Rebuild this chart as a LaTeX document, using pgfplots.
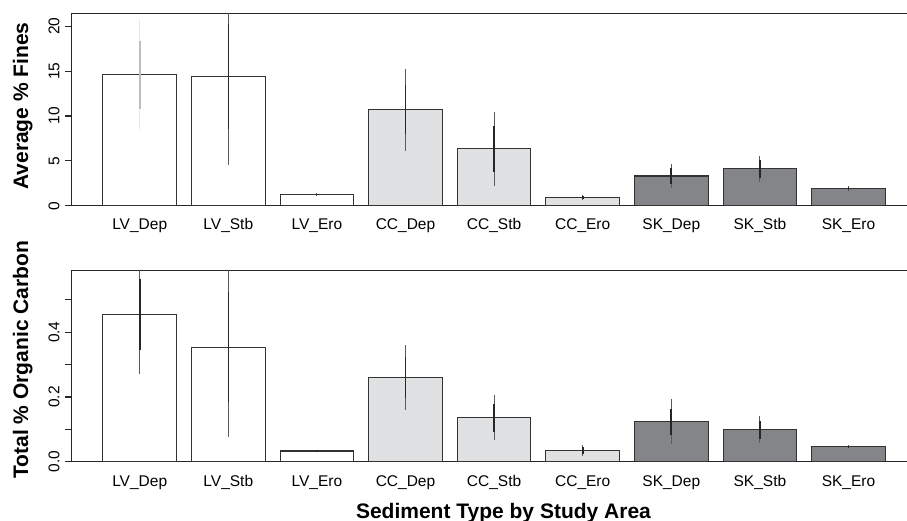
\documentclass[border=0pt]{standalone}
\usepackage{fontspec}
\setmainfont{Liberation Sans}
\usepackage{pgfplots}
\usepackage{pgfplotstable}
\pgfplotsset{compat=1.18}
\definecolor{ccgrey}{HTML}{E0E1E2}
\definecolor{skgrey}{HTML}{848588}
\definecolor{barline}{HTML}{333333}
\definecolor{errout}{HTML}{5A5A5A}
\definecolor{errin}{HTML}{262626}
\definecolor{lightout}{HTML}{E6E6E6}
\definecolor{lightin}{HTML}{BDBDBD}
\newcommand\ticksize{\fontsize{15.5}{18}\selectfont}
\newcommand\labsize{\fontsize{21}{25}\selectfont\bfseries}

% Average % Fines: x, mean, outer half-range, inner half-range
\pgfplotstableread{
x y eo ei
0 14.60 6.10 3.80
1 14.38 9.84 5.86
2 1.27 0.14 0.08
}\fineslv
\pgfplotstableread{
x y eo ei
3 10.70 4.55 2.73
4 6.35 4.14 2.54
5 0.94 0.26 0.15
}\finescc
\pgfplotstableread{
x y eo ei
6 3.31 1.33 0.90
7 4.12 1.45 1.00
8 1.90 0.30 0.20
}\finessk
% Total % Organic Carbon
\pgfplotstableread{
x y eo ei
0 0.4535 0.182 0.110
1 0.3536 0.278 0.170
2 0.0330 0.004 0.002
}\toclv
\pgfplotstableread{
x y eo ei
3 0.2610 0.100 0.063
4 0.1360 0.070 0.043
5 0.0350 0.0175 0.010
}\toccc
\pgfplotstableread{
x y eo ei
6 0.1240 0.069 0.040
7 0.0990 0.042 0.028
8 0.0464 0.004 0.002
}\tocsk

\pgfplotsset{
  panel/.style={
    scale only axis, width=844.9pt,
    xmin=-0.7675, xmax=8.7688, ymin=0,
    axis line style={line width=1.3pt, color=black!85},
    xtick={0,1,2,3,4,5,6,7,8},
    xticklabels={LV\_Dep,LV\_Stb,LV\_Ero,CC\_Dep,CC\_Stb,CC\_Ero,SK\_Dep,SK\_Stb,SK\_Ero},
    xtick style={draw=none},
    ytick pos=left, xtick pos=bottom,
    tick align=outside, major tick length=7pt,
    ytick style={line width=1.1pt, color=black!85},
    tick label style={font=\ticksize},
    xticklabel style={anchor=base, inner sep=0pt},
    yticklabel style={xshift=-5pt, rotate=90, anchor=south, inner sep=0pt},
    /pgf/number format/assume math mode=true,
    ylabel style={font=\labsize, anchor=base},
    clip=true,
  },
  bars/.style={ybar, bar width=0.83, bar shift=0pt, draw=barline, line width=1.1pt, fill=#1},
  eout/.style={forget plot, draw=none, mark=none, error bars/.cd, y dir=both, y explicit, error mark=none,
    error bar style={draw=#1, line width=1.1pt, solid}, /pgfplots/.cd},
  ein/.style={forget plot, draw=none, mark=none, error bars/.cd, y dir=both, y explicit, error mark=none,
    error bar style={draw=#1, line width=1.6pt, solid}, /pgfplots/.cd},
}

\begin{document}
\begin{tikzpicture}
\begin{axis}[panel, at={(71.7pt,315.3pt)}, anchor=south west,
  height=192pt, ymax=21.4,
  ytick={0,5,10,15,20}, yticklabels={0,5,10,15,20},
  xticklabel style={yshift=-16.8pt},
  ylabel={Average \% Fines},
  ylabel style={at={(rel axis cs:-0.0517,0.519)}},
]
\addplot[bars=white] table[x=x,y=y] {\fineslv};
\addplot[bars=ccgrey] table[x=x,y=y] {\finescc};
\addplot[bars=skgrey] table[x=x,y=y] {\finessk};
\addplot[restrict x to domain=-0.5:0.5, eout=lightout] table[x=x,y=y,y error=eo] {\fineslv};
\addplot[restrict x to domain=-0.5:0.5, ein=lightin] table[x=x,y=y,y error=ei] {\fineslv};
\addplot[restrict x to domain=0.5:2.5, eout=errout] table[x=x,y=y,y error=eo] {\fineslv};
\addplot[restrict x to domain=0.5:2.5, ein=errin] table[x=x,y=y,y error=ei] {\fineslv};
\addplot[eout=errout] table[x=x,y=y,y error=eo] {\finescc};
\addplot[ein=errin] table[x=x,y=y,y error=ei] {\finescc};
\addplot[eout=errout] table[x=x,y=y,y error=eo] {\finessk};
\addplot[ein=errin] table[x=x,y=y,y error=ei] {\finessk};
\end{axis}

\begin{axis}[panel, at={(71.7pt,59.3pt)}, anchor=south west,
  height=191pt, ymax=0.590,
  ytick={0,0.1,0.2,0.3,0.4,0.5}, yticklabels={0.0,,0.2,,0.4,},
  xticklabel style={yshift=-17.8pt},
  ylabel={Total \% Organic Carbon},
  ylabel style={at={(rel axis cs:-0.0517,0.534)}},
  xlabel={Sediment Type by Study Area},
  xlabel style={font=\labsize, anchor=base, at={(rel axis cs:0.511,-0.2963)}},
]
\addplot[bars=white] table[x=x,y=y] {\toclv};
\addplot[bars=ccgrey] table[x=x,y=y] {\toccc};
\addplot[bars=skgrey] table[x=x,y=y] {\tocsk};
\addplot[eout=errout] table[x=x,y=y,y error=eo] {\toclv};
\addplot[ein=errin] table[x=x,y=y,y error=ei] {\toclv};
\addplot[eout=errout] table[x=x,y=y,y error=eo] {\toccc};
\addplot[ein=errin] table[x=x,y=y,y error=ei] {\toccc};
\addplot[eout=errout] table[x=x,y=y,y error=eo] {\tocsk};
\addplot[ein=errin] table[x=x,y=y,y error=ei] {\tocsk};
\end{axis}
\pgfresetboundingbox
\path[use as bounding box] (0,0) rectangle (907pt,521pt);
\end{tikzpicture}
\end{document}
